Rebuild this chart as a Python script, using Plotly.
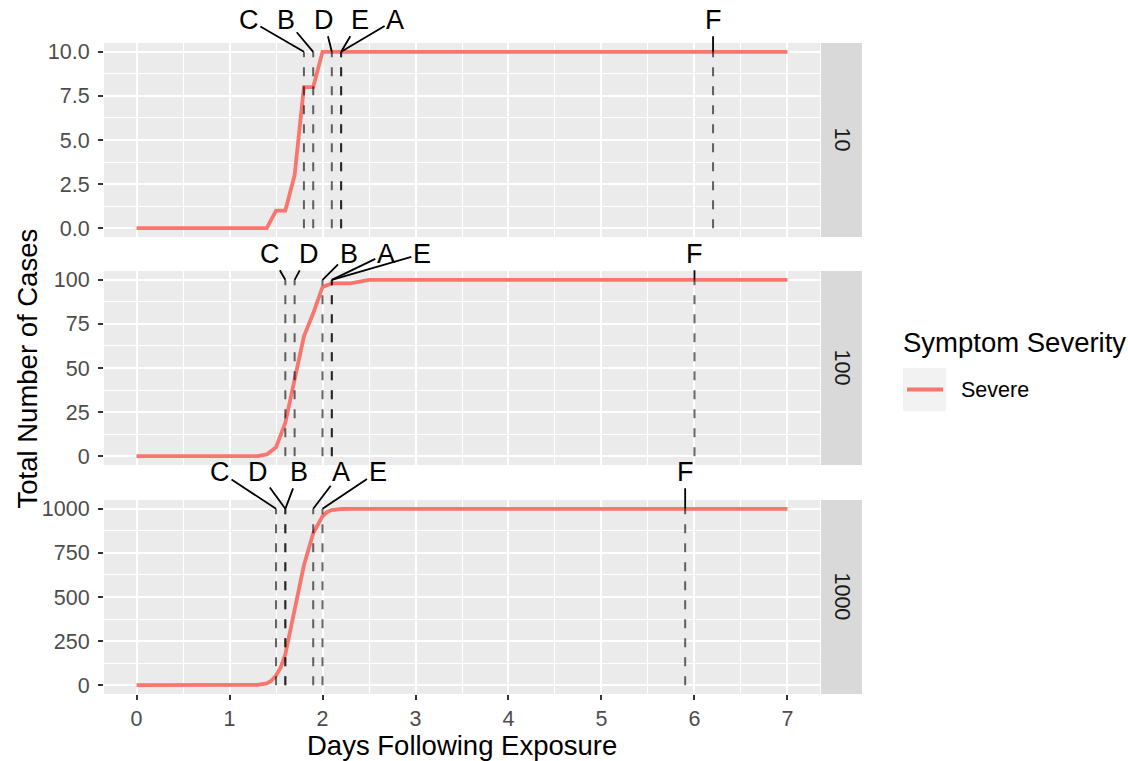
import plotly.graph_objects as go

# ---------------- data ----------------
facets = [10, 100, 1000]
strip_labels = ["10", "100", "1000"]

days_10 = [0, 1.4, 1.5, 1.6, 1.7, 1.8, 1.9, 2.0, 7]
cases_10 = [0, 0, 1, 1, 3, 8, 8, 10, 10]

days_100 = [0, 1.3, 1.4, 1.5, 1.6, 1.7, 1.8, 1.9, 2.0, 2.1, 2.2, 2.3, 2.4, 2.5, 7]
cases_100 = [0, 0, 1, 5, 19, 43, 68, 81, 96, 98, 98, 98, 99, 100, 100]

days_1000 = [0, 1.2, 1.3, 1.4, 1.45, 1.5, 1.55, 1.6, 1.7, 1.8, 1.9, 2.0, 2.05, 2.1, 2.2, 2.3, 7]
cases_1000 = [0, 0, 2, 10, 25, 55, 100, 175, 420, 680, 862, 958, 982, 993, 999, 1000, 1000]

marker_names = ["A", "B", "C", "D", "E", "F"]
marker_days_10 = [2.2, 1.9, 1.8, 2.1, 2.2, 6.2]
marker_days_100 = [2.1, 2.0, 1.6, 1.7, 2.1, 6.0]
marker_days_1000 = [1.9, 1.6, 1.5, 1.6, 2.0, 5.9]

x_ticks = [0, 1, 2, 3, 4, 5, 6, 7]
y_ticks_10 = [0, 2.5, 5, 7.5, 10]
y_ticks_100 = [0, 25, 50, 75, 100]
y_ticks_1000 = [0, 250, 500, 750, 1000]

series_name = "Severe"
legend_title = "Symptom Severity"
x_title = "Days Following Exposure"
y_title = "Total Number of Cases"

# ---------------- layout helpers (positions / styles only) ----------------
W, H = 1128, 761
RED = "#F8766D"
panel_x = (104, 820)
panel_y = [(43, 237), (271, 465), (500, 694)]  # pixel top, bottom
strip_x = (821, 862)

# repel label offsets (pixels) for each panel, in order A..F
label_offsets = [
    [(54, -32), (-27, -32), (-55, -32), (-8, -32), (19, -32), (0, -32)],
    [(54, -26), (26, -26), (-15, -26), (14, -26), (90, -26), (0, -26)],
    [(28, -37), (14, -37), (-56, -37), (-27, -37), (55, -37), (0, -37)],
]

panels = [
    (days_10, cases_10, marker_days_10, y_ticks_10, ".1f"),
    (days_100, cases_100, marker_days_100, y_ticks_100, "d"),
    (days_1000, cases_1000, marker_days_1000, y_ticks_1000, "d"),
]

fig = go.Figure()
font_family = "Liberation Sans, Arial, sans-serif"
TITLE_SIZE = 27.5
TICK_SIZE = 21.5

annotations = []
shapes = []
layout_axes = {}

for i, (dx, cy, mdays, yt, fmt) in enumerate(panels):
    n = "" if i == 0 else str(i + 1)
    xa, ya = "x" + n, "y" + n
    ymax = max(cy)
    ymin = min(cy)
    pad = 0.05 * (ymax - ymin)
    xpad = 0.05 * (max(x_ticks) - min(x_ticks))

    fig.add_trace(go.Scatter(
        x=dx, y=cy, mode="lines", name=series_name,
        line=dict(color=RED, width=3.8),
        xaxis=xa, yaxis=ya, showlegend=False, legendgroup="sev",
        hoverinfo="skip",
    ))

    # dashed vertical segments from 0 to max at each marker day
    vx, vy = [], []
    for d in mdays:
        vx += [d, d, None]
        vy += [ymin, ymax, None]
    fig.add_trace(go.Scatter(
        x=vx, y=vy, mode="lines", showlegend=False,
        line=dict(color="rgba(0,0,0,0.6)", width=2, dash="9px,10px"),
        xaxis=xa, yaxis=ya, hoverinfo="skip",
    ))

    # repel-style labels
    for name, d, (ox, oy) in zip(marker_names, mdays, label_offsets[i]):
        annotations.append(dict(
            x=d, y=ymax, xref=xa, yref=ya, text=name, showarrow=True,
            arrowhead=0, arrowwidth=1.8, arrowcolor="black", standoff=0,
            ax=ox, ay=oy, font=dict(size=27, color="black", family=font_family),
        ))

    top, bot = panel_y[i]
    ydom = [1 - bot / H, 1 - top / H]

    layout_axes["xaxis" + n] = dict(
        domain=[panel_x[0] / W, panel_x[1] / W],
        range=[min(x_ticks) - xpad, max(x_ticks) + xpad],
        anchor=ya, tickvals=x_ticks, showticklabels=(i == 2),
        ticks="outside" if i == 2 else "", ticklen=5, tickwidth=2, tickcolor="#333333",
        tickfont=dict(size=TICK_SIZE, color="#4D4D4D", family=font_family),
        showgrid=True, gridcolor="white", gridwidth=2.4,
        minor=dict(dtick=0.5, showgrid=True, gridcolor="white", gridwidth=1.2, tick0=0),
        zeroline=False, showline=False, automargin=False,
        matches=None if i == 0 else "x",
    )
    dt = yt[1] - yt[0]
    layout_axes["yaxis" + n] = dict(
        domain=ydom, range=[ymin - pad, ymax + pad], anchor=xa,
        tickvals=yt, tickformat=fmt,
        ticks="outside", ticklen=5, tickwidth=2, tickcolor="#333333",
        tickfont=dict(size=TICK_SIZE, color="#4D4D4D", family=font_family),
        showgrid=True, gridcolor="white", gridwidth=2.4,
        minor=dict(dtick=dt / 2, tick0=0, showgrid=True, gridcolor="white", gridwidth=1.2),
        zeroline=False, showline=False, automargin=False,
        ticklabelstandoff=4,
    )

    # panel background
    shapes.append(dict(type="rect", xref="x" + n + " domain", yref=ya + " domain",
                       x0=0, x1=1, y0=0, y1=1, fillcolor="#EBEBEB", line_width=0,
                       layer="below"))
    # strip
    shapes.append(dict(type="rect", xref="paper", yref=ya + " domain",
                       x0=strip_x[0] / W, x1=strip_x[1] / W, y0=0, y1=1,
                       fillcolor="#D9D9D9", line_width=0, layer="below"))
    annotations.append(dict(
        x=(strip_x[0] + strip_x[1]) / 2 / W, y=0.5, xref="paper", yref=ya + " domain",
        text=strip_labels[i], showarrow=False, textangle=90,
        font=dict(size=TICK_SIZE, color="#1A1A1A", family=font_family),
        xanchor="center", yanchor="middle",
    ))

# axis titles
annotations.append(dict(
    x=0.5, y=(H - 745) / H, xref="x3 domain", yref="paper", text=x_title,
    showarrow=False, font=dict(size=TITLE_SIZE, color="black", family=font_family),
    xanchor="center", yanchor="middle",
))
annotations.append(dict(
    x=27 / W, y=1 - ((panel_y[0][0] + panel_y[2][1]) / 2) / H, xref="paper", yref="paper",
    text=y_title, showarrow=False, textangle=-90,
    font=dict(size=TITLE_SIZE, color="black", family=font_family),
    xanchor="center", yanchor="middle",
))

# legend (drawn as a ggplot-style guide)
shapes.append(dict(type="rect", xref="paper", yref="paper",
                   x0=903 / W, x1=946 / W, y0=1 - 411 / H, y1=1 - 368 / H,
                   fillcolor="#F2F2F2", line_width=0, layer="below"))
shapes.append(dict(type="line", xref="paper", yref="paper",
                   x0=907 / W, x1=943 / W, y0=1 - 389.5 / H, y1=1 - 389.5 / H,
                   line=dict(color=RED, width=3.8), layer="above"))
annotations.append(dict(
    x=901 / W, y=1 - 342 / H, xref="paper", yref="paper", text=legend_title,
    showarrow=False, xanchor="left", yanchor="middle",
    font=dict(size=TITLE_SIZE, color="black", family=font_family),
))
annotations.append(dict(
    x=959 / W, y=1 - 389.5 / H, xref="paper", yref="paper", text=series_name,
    showarrow=False, xanchor="left", yanchor="middle",
    font=dict(size=TICK_SIZE, color="black", family=font_family),
))

fig.update_layout(
    width=W, height=H,
    margin=dict(l=0, r=0, t=0, b=0, autoexpand=False),
    paper_bgcolor="white", plot_bgcolor="rgba(0,0,0,0)",
    font=dict(family=font_family),
    showlegend=False,
    annotations=annotations,
    shapes=shapes,
    **layout_axes,
)

fig.write_html("out.html", config={"displayModeBar": False},
               post_script="document.body.style.margin='0px';")
